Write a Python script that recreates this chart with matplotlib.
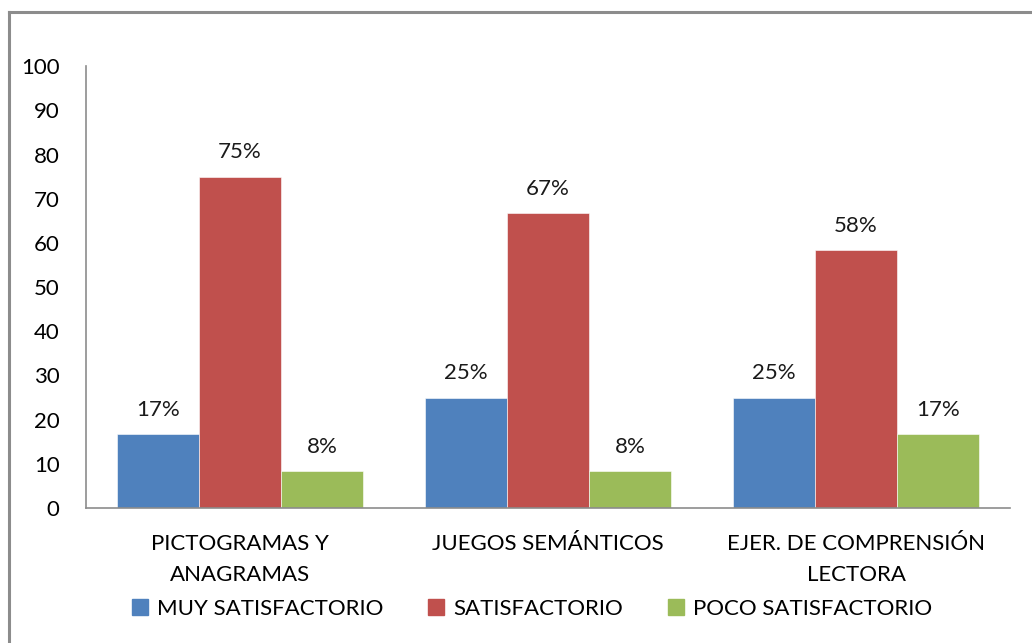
import matplotlib.pyplot as plt
import numpy as np
from matplotlib.lines import Line2D

categories = ["PICTOGRAMAS Y\nANAGRAMAS", "JUEGOS SEMÁNTICOS", "EJER. DE COMPRENSIÓN\nLECTORA"]
series_names = ["MUY SATISFACTORIO", "SATISFACTORIO", "POCO SATISFACTORIO"]
muy = [16.67, 25.0, 25.0]
sat = [75.0, 66.67, 58.33]
poco = [8.33, 8.33, 16.67]
labels_muy = ["17%", "25%", "25%"]
labels_sat = ["75%", "67%", "58%"]
labels_poco = ["8%", "8%", "17%"]
yticks = list(range(0, 101, 10))

colors = ["#4F81BD", "#C0504D", "#9BBB59"]

plt.rcParams["font.family"] = ["Lato", "DejaVu Sans"]

fig = plt.figure(figsize=(10.32, 6.43), dpi=100)
ax = fig.add_axes([0.0833, 0.21, 0.8954, 0.687])

x = np.arange(len(categories))
w = 0.8 / 3
fs = 16
for i, (vals, labs) in enumerate([(muy, labels_muy), (sat, labels_sat), (poco, labels_poco)]):
    pos = x + (i - 1) * w
    ax.bar(pos, vals, width=w, color=colors[i], edgecolor="white", linewidth=0.4,
           label=series_names[i])
    for p, v, l in zip(pos, vals, labs):
        ax.text(p, v + 5.5, l, ha="center", va="center", fontsize=fs, color="#1a1a1a")

ax.set_xlim(-0.5, 2.5)
ax.set_ylim(0, 100)
ax.set_yticks(yticks)
ax.set_xticks(x)
ax.set_xticklabels(categories, fontsize=fs, linespacing=1.65)
ax.tick_params(axis="y", labelsize=fs, length=0, pad=19)
ax.tick_params(axis="x", length=0, pad=19)
for s in ["top", "right"]:
    ax.spines[s].set_visible(False)
for s in ["left", "bottom"]:
    ax.spines[s].set_color("#8c8c8c")
    ax.spines[s].set_linewidth(1.2)

handles = [Line2D([], [], marker="s", linestyle="", markersize=11, color=c) for c in colors]
fig.legend(handles, series_names, loc="center", bbox_to_anchor=(0.515, 0.053), ncol=3,
           frameon=False, fontsize=fs, handlelength=0.8, handletextpad=0.35,
           columnspacing=2.0)

# outer chart border (only left/top visible in the frame)
fig.add_artist(Line2D([0.009, 0.009], [0, 0.981], color="#8c8c8c", linewidth=2.2,
                      transform=fig.transFigure))
fig.add_artist(Line2D([0.009, 1.0], [0.981, 0.981], color="#8c8c8c", linewidth=2.2,
                      transform=fig.transFigure))

fig.savefig("out.png", dpi=100)
